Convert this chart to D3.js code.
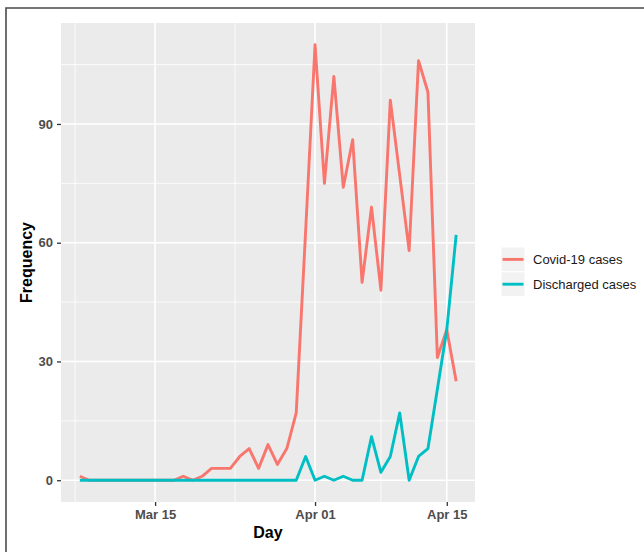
<!DOCTYPE html>
<html>
<head>
<meta charset="utf-8">
<script src="https://cdn.jsdelivr.net/npm/d3@7"></script>
<style>
  html, body { margin: 0; padding: 0; background: #ffffff; }
  svg { display: block; }
  text { font-family: "Liberation Sans", Arial, sans-serif; }
</style>
</head>
<body>
<svg id="chart" width="644" height="552"></svg>
<script>
// ---- data ----
const startDate = "2020-03-07";
const covidCases = [1, 0, 0, 0, 0, 0, 0, 0, 0, 0, 0, 1, 0, 1, 3, 3, 3, 6, 8, 3, 9, 4, 8, 17, 63,
  110, 75, 102, 74, 86, 50, 69, 48, 96, 77, 58, 106, 98, 31, 38, 25];
const dischargedCases = [0, 0, 0, 0, 0, 0, 0, 0, 0, 0, 0, 0, 0, 0, 0, 0, 0, 0, 0, 0, 0, 0, 0, 0, 6,
  0, 1, 0, 1, 0, 0, 11, 2, 6, 17, 0, 6, 8, 23, 38, 62];
const seriesNames = ["Covid-19 cases", "Discharged cases"];
const seriesColors = ["#F8766D", "#00BFC4"];
const yTicks = [0, 30, 60, 90];
const yMinor = [15, 45, 75, 105];
const xTickDates = ["2020-03-15", "2020-04-01", "2020-04-15"];
const xMinorDates = ["2020-03-06T12:00:00Z", "2020-03-23T12:00:00Z", "2020-04-08T00:00:00Z"];

// ---- build ----
const parse = s => new Date(s.length === 10 ? s + "T00:00:00Z" : s);
const day0 = parse(startDate);
const dates = covidCases.map((_, i) => d3.utcDay.offset(day0, i));
const series = [covidCases, dischargedCases].map((vals, k) => ({
  name: seriesNames[k], color: seriesColors[k],
  points: vals.map((v, i) => ({ date: dates[i], value: v }))
}));

const svg = d3.select("#chart");
const panel = { left: 61, right: 475, top: 23, bottom: 502 };

// ggplot-like expansion (5%)
const dExt = d3.extent(dates);
const span = dExt[1] - dExt[0];
const x = d3.scaleUtc()
  .domain([new Date(+dExt[0] - span * 0.05), new Date(+dExt[1] + span * 0.05)])
  .range([panel.left, panel.right]);
const yMax = d3.max([...covidCases, ...dischargedCases]);
const yMinV = 0;
const yPad = (yMax - yMinV) * 0.05;
const y = d3.scaleLinear().domain([yMinV - yPad, yMax + yPad]).range([panel.bottom, panel.top]);

// outer frame (top and left edges only)
svg.append("path").attr("d", "M6,552 L6,8 L644,8")
  .attr("fill", "none").attr("stroke", "#4a4a4a").attr("stroke-width", 1.6);

// panel background
svg.append("rect").attr("x", panel.left).attr("y", panel.top)
  .attr("width", panel.right - panel.left).attr("height", panel.bottom - panel.top)
  .attr("fill", "#ebebeb");

const grid = svg.append("g");
// minor grid
grid.selectAll(".ymin").data(yMinor).join("line")
  .attr("x1", panel.left).attr("x2", panel.right)
  .attr("y1", d => y(d)).attr("y2", d => y(d))
  .attr("stroke", "#ffffff").attr("stroke-width", 0.8);
grid.selectAll(".xmin").data(xMinorDates.map(parse)).join("line")
  .attr("y1", panel.top).attr("y2", panel.bottom)
  .attr("x1", d => x(d)).attr("x2", d => x(d))
  .attr("stroke", "#ffffff").attr("stroke-width", 0.8);
// major grid
grid.selectAll(".ymaj").data(yTicks).join("line")
  .attr("x1", panel.left).attr("x2", panel.right)
  .attr("y1", d => y(d)).attr("y2", d => y(d))
  .attr("stroke", "#ffffff").attr("stroke-width", 1.6);
grid.selectAll(".xmaj").data(xTickDates.map(parse)).join("line")
  .attr("y1", panel.top).attr("y2", panel.bottom)
  .attr("x1", d => x(d)).attr("x2", d => x(d))
  .attr("stroke", "#ffffff").attr("stroke-width", 1.6);

// lines
const line = d3.line().x(d => x(d.date)).y(d => y(d.value));
svg.append("g").selectAll("path").data(series).join("path")
  .attr("d", d => line(d.points))
  .attr("fill", "none")
  .attr("stroke", d => d.color)
  .attr("stroke-width", 2.9)
  .attr("stroke-linejoin", "round")
  .attr("stroke-linecap", "butt");

// axes
const xAxis = d3.axisBottom(x).tickValues(xTickDates.map(parse))
  .tickFormat(d3.utcFormat("%b %d")).tickSize(4).tickPadding(4);
const gx = svg.append("g").attr("transform", `translate(0,${panel.bottom})`).call(xAxis);
gx.select(".domain").remove();
gx.selectAll(".tick line").attr("stroke", "#333333").attr("stroke-width", 1.3);
gx.selectAll(".tick text").attr("fill", "#4d4d4d").attr("font-size", 13)
  .attr("font-weight", "bold").attr("font-family", "Liberation Sans, Arial, sans-serif");

const yAxis = d3.axisLeft(y).tickValues(yTicks).tickSize(4).tickPadding(4);
const gy = svg.append("g").attr("transform", `translate(${panel.left},0)`).call(yAxis);
gy.select(".domain").remove();
gy.selectAll(".tick line").attr("stroke", "#333333").attr("stroke-width", 1.3);
gy.selectAll(".tick text").attr("fill", "#4d4d4d").attr("font-size", 13)
  .attr("font-weight", "bold").attr("font-family", "Liberation Sans, Arial, sans-serif");

// axis titles
svg.append("text").attr("x", (panel.left + panel.right) / 2).attr("y", 538)
  .attr("text-anchor", "middle").attr("font-size", 16).attr("font-weight", "bold")
  .attr("fill", "#000000").text("Day");
svg.append("text")
  .attr("transform", `translate(32,${(panel.top + panel.bottom) / 2}) rotate(-90)`)
  .attr("text-anchor", "middle").attr("font-size", 16).attr("font-weight", "bold")
  .attr("fill", "#000000").text("Frequency");

// legend
const lg = svg.append("g").attr("transform", "translate(501,247)");
const keyH = 24.8, keyW = 24;
const items = lg.selectAll("g").data(series).join("g")
  .attr("transform", (d, i) => `translate(0,${i * keyH})`);
items.append("rect").attr("width", keyW).attr("height", keyH)
  .attr("fill", "#f2f2f2").attr("stroke", "#ffffff").attr("stroke-width", 1);
items.append("line").attr("x1", 1.5).attr("x2", keyW - 1.5)
  .attr("y1", keyH / 2).attr("y2", keyH / 2)
  .attr("stroke", d => d.color).attr("stroke-width", 2.9);
items.append("text").attr("x", 32).attr("y", keyH / 2 + 4.6)
  .attr("font-size", 13).attr("fill", "#1a1a1a").text(d => d.name);
</script>
</body>
</html>
